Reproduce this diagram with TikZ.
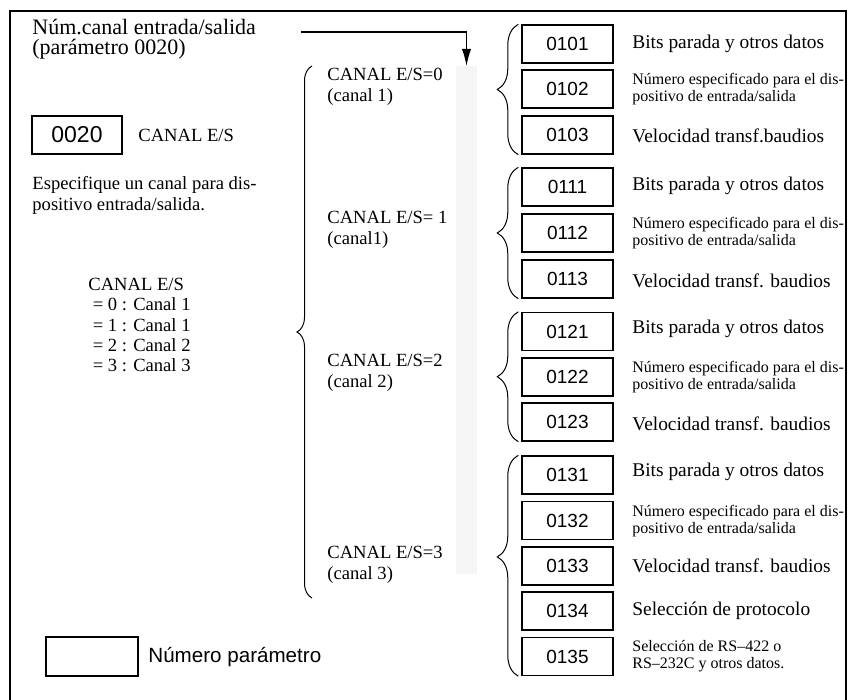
\documentclass[tikz,border=0pt]{standalone}
\usepackage{fontspec}
\setmainfont{Liberation Serif}
\setsansfont{Liberation Sans}
\usetikzlibrary{arrows.meta,calc,decorations.pathreplacing}
\definecolor{stripgray}{RGB}{245,245,245}
\lineskiplimit=-20pt

\tikzset{
  parbox/.style={draw, line width=0.7pt, minimum width=45.5pt, minimum height=19pt,
    inner sep=0pt, font=\sffamily\fontsize{9.5}{11}\selectfont},
  desc/.style={anchor=west, inner sep=0pt, font=\fontsize{9.7}{11}\selectfont},
  descsmall/.style={anchor=west, inner sep=0pt, align=left, font=\fontsize{8}{8.6}\selectfont},
  chlabel/.style={anchor=west, inner sep=0pt, align=left, font=\fontsize{9.3}{10.5}\selectfont},
  bracegroup/.style={decorate, decoration={brace, amplitude=10.5pt}, line width=0.5pt},
}

\begin{document}
\begin{tikzpicture}[x=0.5pt, y=-0.5pt]
  \useasboundingbox (0,0) rectangle (848,700);

  % Frame (open at the bottom)
  \draw[line width=1pt] (9.5,700) -- (9.5,10.5);
  \draw[line width=0.8pt] (9,11) -- (846,11) -- (846,700);

  % Parameter title and pointer
  \node[anchor=west, align=left, inner sep=0pt, font=\fontsize{11}{9.7}\selectfont]
    (title) at (32,39) {Núm.canal entrada/salida\\(parámetro 0020)};
  \fill[stripgray] (456,66) rectangle (477,574);
  \coordinate (strip) at (466.5,66);
  \coordinate (arrowstart) at (301,32);
  \draw[line width=0.6pt, -{Latex[length=8.5pt,width=4.6pt]}] (arrowstart) -| (strip);

  % Parameter 0020
  \node[parbox, minimum width=45pt, font=\sffamily\fontsize{11.5}{13}\selectfont]
    (p0020) at (77,135) {0020};
  \node[chlabel] (chname) at (138,135) {CANAL E/S};
  \node[chlabel] (explain) at (32,195)
    {Especifique un canal para dis-\\positivo entrada/salida.};
  \node[chlabel, font=\fontsize{9.3}{10.15}\selectfont] (chlist) at (88,325)
    {CANAL E/S\\\hspace{2.2pt}= 0 : Canal 1\\\hspace{2.2pt}= 1 : Canal 1\\
     \hspace{2.2pt}= 2 : Canal 2\\\hspace{2.2pt}= 3 : Canal 3};

  % Big brace and channel values
  \coordinate (bigbot) at (312,598);
  \coordinate (bigtop) at (312,66);
  \draw[decorate, decoration={brace, amplitude=7.5pt}, line width=0.5pt] (bigbot) -- (bigtop);
  \node[chlabel] (ch0) at (327,86.5) {CANAL E/S=0\\(canal 1)};
  \node[chlabel] (ch1) at (327,229.5) {CANAL E/S= 1\\(canal1)};
  \node[chlabel] (ch2) at (327,373) {CANAL E/S=2\\(canal 2)};
  \node[chlabel] (ch3) at (327,565) {CANAL E/S=3\\(canal 3)};

  % Channel 1 parameters
  \node[parbox] (b0101) at (567.5,44) {0101};
  \node[parbox] (b0102) at (567.5,89) {0102};
  \node[parbox] (b0103) at (567.5,135) {0103};
  \node[desc] at (632,44) {Bits parada y otros datos};
  \node[descsmall] at (632,89) {Número especificado para el dis-\\positivo de entrada/salida};
  \node[desc] at (632,136) {Velocidad transf.baudios};
  \draw[bracegroup] ($(b0103.south west)+(-3,0)$) -- ($(b0101.north west)+(-3,0)$);

  % Channel 1 (second set)
  \node[parbox] (b0111) at (567.5,187) {0111};
  \node[parbox] (b0112) at (567.5,233) {0112};
  \node[parbox] (b0113) at (567.5,279) {0113};
  \node[desc] at (632,186) {Bits parada y otros datos};
  \node[descsmall] at (632,233) {Número especificado para el dis-\\positivo de entrada/salida};
  \node[desc] at (632,281) {Velocidad transf. baudios};
  \draw[bracegroup] ($(b0113.south west)+(-3,0)$) -- ($(b0111.north west)+(-3,0)$);

  % Channel 2
  \node[parbox] (b0121) at (567.5,331.5) {0121};
  \node[parbox] (b0122) at (567.5,377) {0122};
  \node[parbox] (b0123) at (567.5,422) {0123};
  \node[desc] at (632,329) {Bits parada y otros datos};
  \node[descsmall] at (632,377) {Número especificado para el dis-\\positivo de entrada/salida};
  \node[desc] at (632,424) {Velocidad transf. baudios};
  \draw[bracegroup] ($(b0123.south west)+(-3,0)$) -- ($(b0121.north west)+(-3,0)$);

  % Channel 3
  \node[parbox] (b0131) at (567.5,475) {0131};
  \node[parbox] (b0132) at (567.5,520.5) {0132};
  \node[parbox] (b0133) at (567.5,566) {0133};
  \node[parbox] (b0134) at (567.5,611) {0134};
  \node[parbox] (b0135) at (567.5,656.5) {0135};
  \node[desc] at (632,472) {Bits parada y otros datos};
  \node[descsmall] at (632,521) {Número especificado para el dis-\\positivo de entrada/salida};
  \node[desc] at (632,566) {Velocidad transf. baudios};
  \node[desc] at (632,611) {Selección de protocolo};
  \node[descsmall] at (632,656) {Selección de RS--422 o\\RS--232C y otros datos.};
  \draw[bracegroup, decoration={aspect=0.54}] ($(b0135.south west)+(-3,0)$) -- ($(b0131.north west)+(-3,0)$);

  % Legend
  \node[parbox, minimum width=46pt, minimum height=19.5pt] (legend) at (92,656.5) {};
  \node[anchor=west, inner sep=0pt, font=\sffamily\fontsize{10.3}{12}\selectfont]
    (legendtext) at (148,657) {Número parámetro};
\end{tikzpicture}
\end{document}
